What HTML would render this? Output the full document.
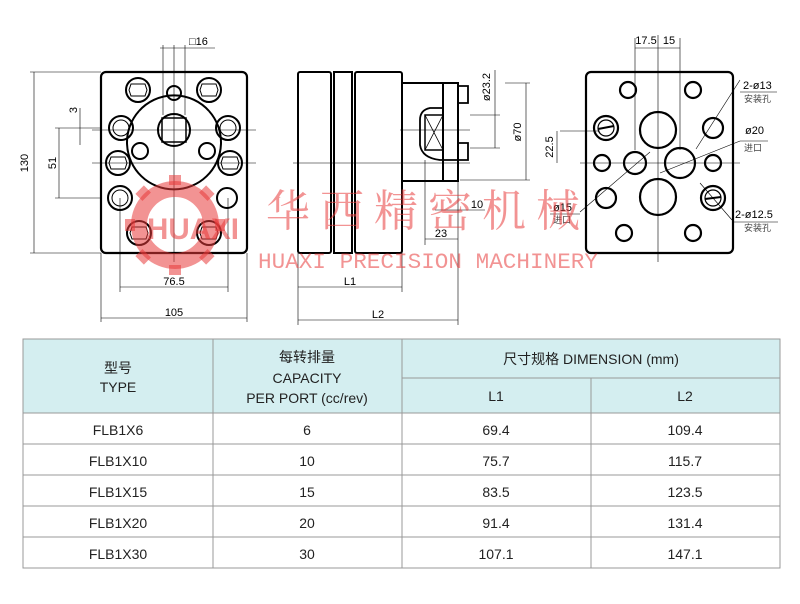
<!DOCTYPE html>
<html><head><meta charset="utf-8"><style>
html,body{margin:0;padding:0;background:#fff;width:800px;height:604px;overflow:hidden}
svg{display:block}
</style></head><body>
<svg width="800" height="604" viewBox="0 0 800 604" xmlns="http://www.w3.org/2000/svg" font-family="Liberation Sans, DejaVu Sans, sans-serif">
<!-- ===== FRONT VIEW ===== -->
<g stroke="#000" fill="none">
<rect x="101" y="72" width="146" height="181" rx="5" stroke-width="2.2"/>
<g stroke-width="0.6">
<line x1="92" y1="130" x2="256" y2="130"/><line x1="92" y1="163" x2="256" y2="163"/>
<line x1="174" y1="45" x2="174" y2="262"/>
<line x1="120" y1="198" x2="120" y2="292"/><line x1="228" y1="198" x2="228" y2="292"/>
<line x1="101" y1="253" x2="101" y2="322"/><line x1="247" y1="253" x2="247" y2="322"/>
<line x1="30" y1="72" x2="101" y2="72"/><line x1="30" y1="253" x2="101" y2="253"/>
<line x1="34" y1="72" x2="34" y2="253"/>
<line x1="55" y1="128" x2="101" y2="128"/><line x1="55" y1="198" x2="101" y2="198"/>
<line x1="59" y1="128" x2="59" y2="198"/>
<line x1="80" y1="108" x2="80" y2="145"/>
<line x1="163" y1="45" x2="163" y2="115"/><line x1="185" y1="45" x2="185" y2="115"/>
<line x1="160" y1="48" x2="215" y2="48"/>
<line x1="120" y1="287" x2="228" y2="287"/><line x1="101" y1="318" x2="247" y2="318"/>
</g>
<path d="M139 111 A47 47 0 1 0 209 111" stroke-width="2"/>
<path d="M139 111 A47 47 0 0 1 209 111" stroke-width="2"/>
<circle cx="174" cy="93" r="7" stroke-width="2"/>
<circle cx="174" cy="130" r="16" stroke-width="2"/>
<rect x="162" y="118" width="24" height="24" stroke-width="1.5"/>
<circle cx="140" cy="151" r="8" stroke-width="2"/>
<circle cx="207" cy="151" r="8" stroke-width="2"/>
<g stroke-width="2">
<circle cx="138" cy="90" r="12"/><circle cx="209" cy="90" r="12"/>
<circle cx="121" cy="128" r="12"/><circle cx="228" cy="128" r="12"/>
<circle cx="118" cy="163" r="12"/><circle cx="230" cy="163" r="12"/>
<circle cx="120" cy="198" r="12"/><circle cx="227" cy="198" r="10"/>
<circle cx="139" cy="233" r="12"/><circle cx="209" cy="233" r="12"/>
</g>
<g stroke-width="1">
<polygon points="131,84 145,84 147,90 145,96 131,96 129,90"/>
<polygon points="202,84 216,84 218,90 216,96 202,96 200,90"/>
<polygon points="111,157 125,157 127,163 125,169 111,169 109,163"/>
<polygon points="223,157 237,157 239,163 237,169 223,169 221,163"/>
<polygon points="132,227 146,227 148,233 146,239 132,239 130,233"/>
<polygon points="202,227 216,227 218,233 216,239 202,239 200,233"/>
<circle cx="121" cy="128" r="8"/><circle cx="228" cy="128" r="8"/><circle cx="120" cy="198" r="8"/>
</g>
</g>
<g font-size="11" fill="#000">
<text x="28" y="163" transform="rotate(-90 28 163)" text-anchor="middle">130</text>
<text x="56" y="163" transform="rotate(-90 56 163)" text-anchor="middle">51</text>
<text x="77" y="110" transform="rotate(-90 77 110)" text-anchor="middle">3</text>
<text x="189" y="45">□16</text>
<text x="174" y="285" text-anchor="middle">76.5</text>
<text x="174" y="316" text-anchor="middle">105</text>
</g>
<!-- ===== SIDE VIEW ===== -->
<g stroke="#000" fill="none">
<rect x="298" y="72" width="33" height="181" rx="2" stroke-width="2"/>
<rect x="334" y="72" width="18" height="181" stroke-width="2"/>
<rect x="355" y="72" width="47" height="181" rx="2" stroke-width="2"/>
<rect x="402" y="83" width="41" height="98" stroke-width="2"/>
<rect x="443" y="83" width="15" height="98" stroke-width="2"/>
<path d="M458 86 H468 V103 H458 M458 143 H468 V160 H458" stroke-width="1.8"/>
<path d="M443 108 H430 Q420 110 420 120 V145 Q422 158 440 160 H458" stroke-width="1.8"/>
<rect x="425" y="115" width="18" height="35" stroke-width="1.5"/>
<path d="M425 115 L443 150 M443 115 L425 150" stroke-width="0.8"/>
<g stroke-width="0.6">
<line x1="293" y1="163" x2="470" y2="163"/><line x1="400" y1="130" x2="470" y2="130"/>
<line x1="298" y1="253" x2="298" y2="325"/><line x1="402" y1="181" x2="402" y2="292"/>
<line x1="458" y1="181" x2="458" y2="325"/><line x1="425" y1="160" x2="425" y2="245"/>
<line x1="298" y1="287" x2="402" y2="287"/><line x1="298" y1="320" x2="458" y2="320"/>
<line x1="425" y1="239" x2="458" y2="239"/><line x1="435" y1="210" x2="485" y2="210"/>
<line x1="470" y1="115" x2="500" y2="115"/><line x1="470" y1="148" x2="500" y2="148"/>
<line x1="495" y1="70" x2="495" y2="148"/>
<line x1="505" y1="83" x2="530" y2="83"/><line x1="460" y1="180" x2="530" y2="180"/>
<line x1="526" y1="83" x2="526" y2="180"/>
</g>
</g>
<g font-size="11" fill="#000">
<text x="350" y="285" text-anchor="middle">L1</text>
<text x="378" y="318" text-anchor="middle">L2</text>
<text x="441" y="237" text-anchor="middle">23</text>
<text x="477" y="208" text-anchor="middle">10</text>
<text x="490" y="87" transform="rotate(-90 490 87)" text-anchor="middle">ø23.2</text>
<text x="521" y="132" transform="rotate(-90 521 132)" text-anchor="middle">ø70</text>
</g>
<!-- ===== REAR VIEW ===== -->
<g stroke="#000" fill="none">
<rect x="586" y="72" width="147" height="181" rx="5" stroke-width="2.2"/>
<g stroke-width="0.6">
<line x1="580" y1="163" x2="740" y2="163"/><line x1="560" y1="131" x2="600" y2="131"/>
<line x1="658" y1="35" x2="658" y2="262"/>
<line x1="635" y1="38" x2="635" y2="150"/><line x1="680" y1="38" x2="680" y2="150"/>
<line x1="635" y1="48" x2="680" y2="48"/>
<line x1="557" y1="131" x2="557" y2="163"/>
<line x1="696" y1="149" x2="740" y2="80"/><line x1="740" y1="92" x2="777" y2="92"/>
<line x1="660" y1="173" x2="740" y2="141"/><line x1="740" y1="141" x2="768" y2="141"/>
<line x1="700" y1="183" x2="732" y2="220"/><line x1="732" y1="222" x2="778" y2="222"/>
<line x1="580" y1="212" x2="650" y2="152"/><line x1="550" y1="214" x2="580" y2="214"/>
</g>
<g stroke-width="2.2">
<circle cx="628" cy="90" r="8"/><circle cx="693" cy="90" r="8"/>
<circle cx="606" cy="128" r="12"/><circle cx="713" cy="128" r="10"/>
<circle cx="602" cy="163" r="8"/><circle cx="713" cy="163" r="8"/>
<circle cx="606" cy="198" r="10"/><circle cx="713" cy="198" r="12"/>
<circle cx="624" cy="233" r="8"/><circle cx="693" cy="233" r="8"/>
<circle cx="658" cy="130" r="18"/><circle cx="658" cy="197" r="18"/>
<circle cx="635" cy="163" r="11"/><circle cx="680" cy="163" r="15"/>
</g>
<circle cx="606" cy="128" r="8" stroke-width="1.2"/><circle cx="713" cy="198" r="8" stroke-width="1.2"/>
<line x1="598" y1="129" x2="614" y2="126" stroke-width="2"/><line x1="705" y1="199" x2="721" y2="197" stroke-width="2"/>
</g>
<g font-size="11" fill="#000">
<text x="646" y="44" text-anchor="middle">17.5</text><text x="669" y="44" text-anchor="middle">15</text>
<text x="553" y="147" transform="rotate(-90 553 147)" text-anchor="middle">22.5</text>
<text x="743" y="89">2-ø13</text><text x="745" y="134">ø20</text>
<text x="735" y="218">2-ø12.5</text><text x="553" y="211">ø15</text>
</g>
<g font-size="9" fill="#444" font-family="Liberation Sans, Noto Sans CJK SC, sans-serif">
<text x="744" y="102">安装孔</text><text x="744" y="151">进口</text>
<text x="744" y="231">安装孔</text><text x="553" y="223">进口</text>
</g>
<!-- ===== WATERMARK ===== -->
<g fill="#e83a3a" fill-opacity="0.55">
<g transform="translate(175 225)">
<circle r="36" fill="none" stroke="#e83a3a" stroke-opacity="0.55" stroke-width="16"/>
<g>
<rect x="-6" y="-50" width="12" height="10"/>
<rect x="-6" y="-50" width="12" height="10" transform="rotate(45)"/>
<rect x="-6" y="-50" width="12" height="10" transform="rotate(90)"/>
<rect x="-6" y="-50" width="12" height="10" transform="rotate(135)"/>
<rect x="-6" y="-50" width="12" height="10" transform="rotate(180)"/>
<rect x="-6" y="-50" width="12" height="10" transform="rotate(225)"/>
<rect x="-6" y="-50" width="12" height="10" transform="rotate(270)"/>
<rect x="-6" y="-50" width="12" height="10" transform="rotate(315)"/>
</g>
</g>
<text x="193" y="239" font-size="30" font-weight="bold" text-anchor="middle" font-family="Liberation Sans, sans-serif" textLength="92" lengthAdjust="spacingAndGlyphs">HUAXI</text>
<text x="428" y="226" font-size="44" text-anchor="middle" letter-spacing="10" font-family="Liberation Serif, Noto Serif CJK SC, serif">华西精密机械</text>
<text x="428" y="268" font-size="22" text-anchor="middle" font-family="Liberation Mono, monospace" textLength="340" lengthAdjust="spacingAndGlyphs">HUAXI PRECISION MACHINERY</text>
</g>
<!-- ===== TABLE ===== -->
<rect x="23" y="339" width="757" height="74" fill="#d4eef0"/>
<g stroke="#999" stroke-width="1" fill="none">
<rect x="23" y="339" width="757" height="229"/>
<line x1="23" y1="413" x2="780" y2="413"/>
<line x1="23" y1="444" x2="780" y2="444"/><line x1="23" y1="475" x2="780" y2="475"/>
<line x1="23" y1="506" x2="780" y2="506"/><line x1="23" y1="537" x2="780" y2="537"/>
<line x1="402" y1="378" x2="780" y2="378"/>
<line x1="213" y1="339" x2="213" y2="568"/><line x1="402" y1="339" x2="402" y2="568"/>
<line x1="591" y1="378" x2="591" y2="568"/>
</g>
<g font-size="14" fill="#222" text-anchor="middle" font-family="Liberation Sans, Noto Sans CJK SC, sans-serif">
<text x="118" y="373">型号</text><text x="118" y="392">TYPE</text>
<text x="307" y="362">每转排量</text><text x="307" y="383">CAPACITY</text><text x="307" y="403">PER PORT  (cc/rev)</text>
<text x="591" y="364">尺寸规格 DIMENSION (mm)</text>
<text x="496" y="401">L1</text><text x="685" y="401">L2</text>
<text x="118" y="435">FLB1X6</text><text x="307" y="435">6</text><text x="496" y="435">69.4</text><text x="685" y="435">109.4</text>
<text x="118" y="466">FLB1X10</text><text x="307" y="466">10</text><text x="496" y="466">75.7</text><text x="685" y="466">115.7</text>
<text x="118" y="497">FLB1X15</text><text x="307" y="497">15</text><text x="496" y="497">83.5</text><text x="685" y="497">123.5</text>
<text x="118" y="528">FLB1X20</text><text x="307" y="528">20</text><text x="496" y="528">91.4</text><text x="685" y="528">131.4</text>
<text x="118" y="559">FLB1X30</text><text x="307" y="559">30</text><text x="496" y="559">107.1</text><text x="685" y="559">147.1</text>
</g>
</svg>
</body></html>
